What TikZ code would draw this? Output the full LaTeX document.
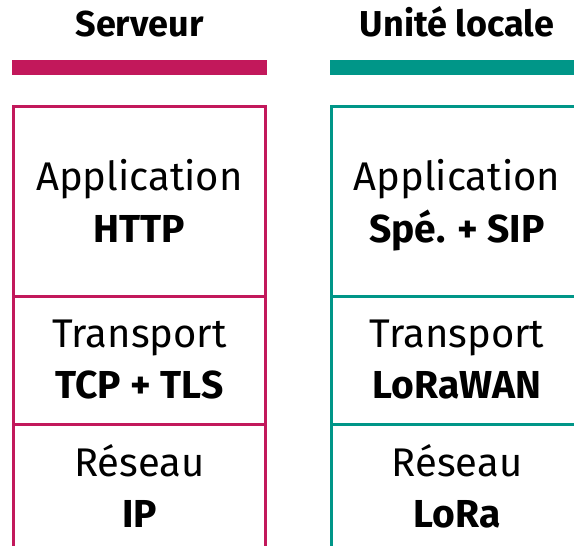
\documentclass[tikz,border=0pt]{standalone}
\usepackage{fontspec}
\setmainfont{Fira Sans}
\definecolor{srvcol}{HTML}{C2185B}
\definecolor{loccol}{HTML}{009688}
\begin{document}
\begin{tikzpicture}[x=1pt,y=-1pt,
  layer/.style={draw, line width=3pt, minimum width=252pt, inner sep=0pt, fill=none},
  bar/.style={inner sep=0pt, minimum width=255pt, minimum height=15pt},
  head/.style={anchor=base, inner sep=0pt, font=\fontsize{36}{40}\selectfont\bfseries},
  lbl/.style={anchor=base, inner sep=0pt, font=\fontsize{40}{44}\selectfont},
  lblb/.style={anchor=base, inner sep=0pt, font=\fontsize{39}{44}\selectfont\bfseries}]
\useasboundingbox (0,0) rectangle (574,546);
\clip (0,0) rectangle (574,546);
% headings
\node[head] (hs) at (139.5,37) {Serveur};
\node[head] (hl) at (457,37) {Unité locale};
% bars
\node[bar, fill=srvcol] (bs) at (139.5,67.5) {};
\node[bar, fill=loccol] (bl) at (457,67.5) {};
% server layers
\node[layer, draw=srvcol, minimum height=189.5pt] (s1) at (139.5,201.25) {};
\node[layer, draw=srvcol, minimum height=128pt] (s2) at (139.5,360) {};
\node[layer, draw=srvcol, minimum height=128pt] (s3) at (139.5,488) {};
% local layers
\node[layer, draw=loccol, minimum height=189.5pt] (l1) at (457,201.25) {};
\node[layer, draw=loccol, minimum height=128pt] (l2) at (457,360) {};
\node[layer, draw=loccol, minimum height=128pt] (l3) at (457,488) {};
% texts server
\node[lbl] (s1a) at (139.5,190) {Application};
\node[lblb] (s1b) at (139.5,242) {HTTP};
\node[lbl] (s2a) at (139.5,347) {Transport};
\node[lblb] (s2b) at (139.5,398) {TCP + TLS};
\node[lbl] (s3a) at (139.5,476) {Réseau};
\node[lblb] (s3b) at (139.5,527) {IP};
% texts local
\node[lbl] (l1a) at (457,190) {Application};
\node[lblb] (l1b) at (457,242) {Spé. + SIP};
\node[lbl] (l2a) at (457,347) {Transport};
\node[lblb] (l2b) at (457,398) {LoRaWAN};
\node[lbl] (l3a) at (457,476) {Réseau};
\node[lblb] (l3b) at (457,527) {LoRa};
\end{tikzpicture}
\end{document}
